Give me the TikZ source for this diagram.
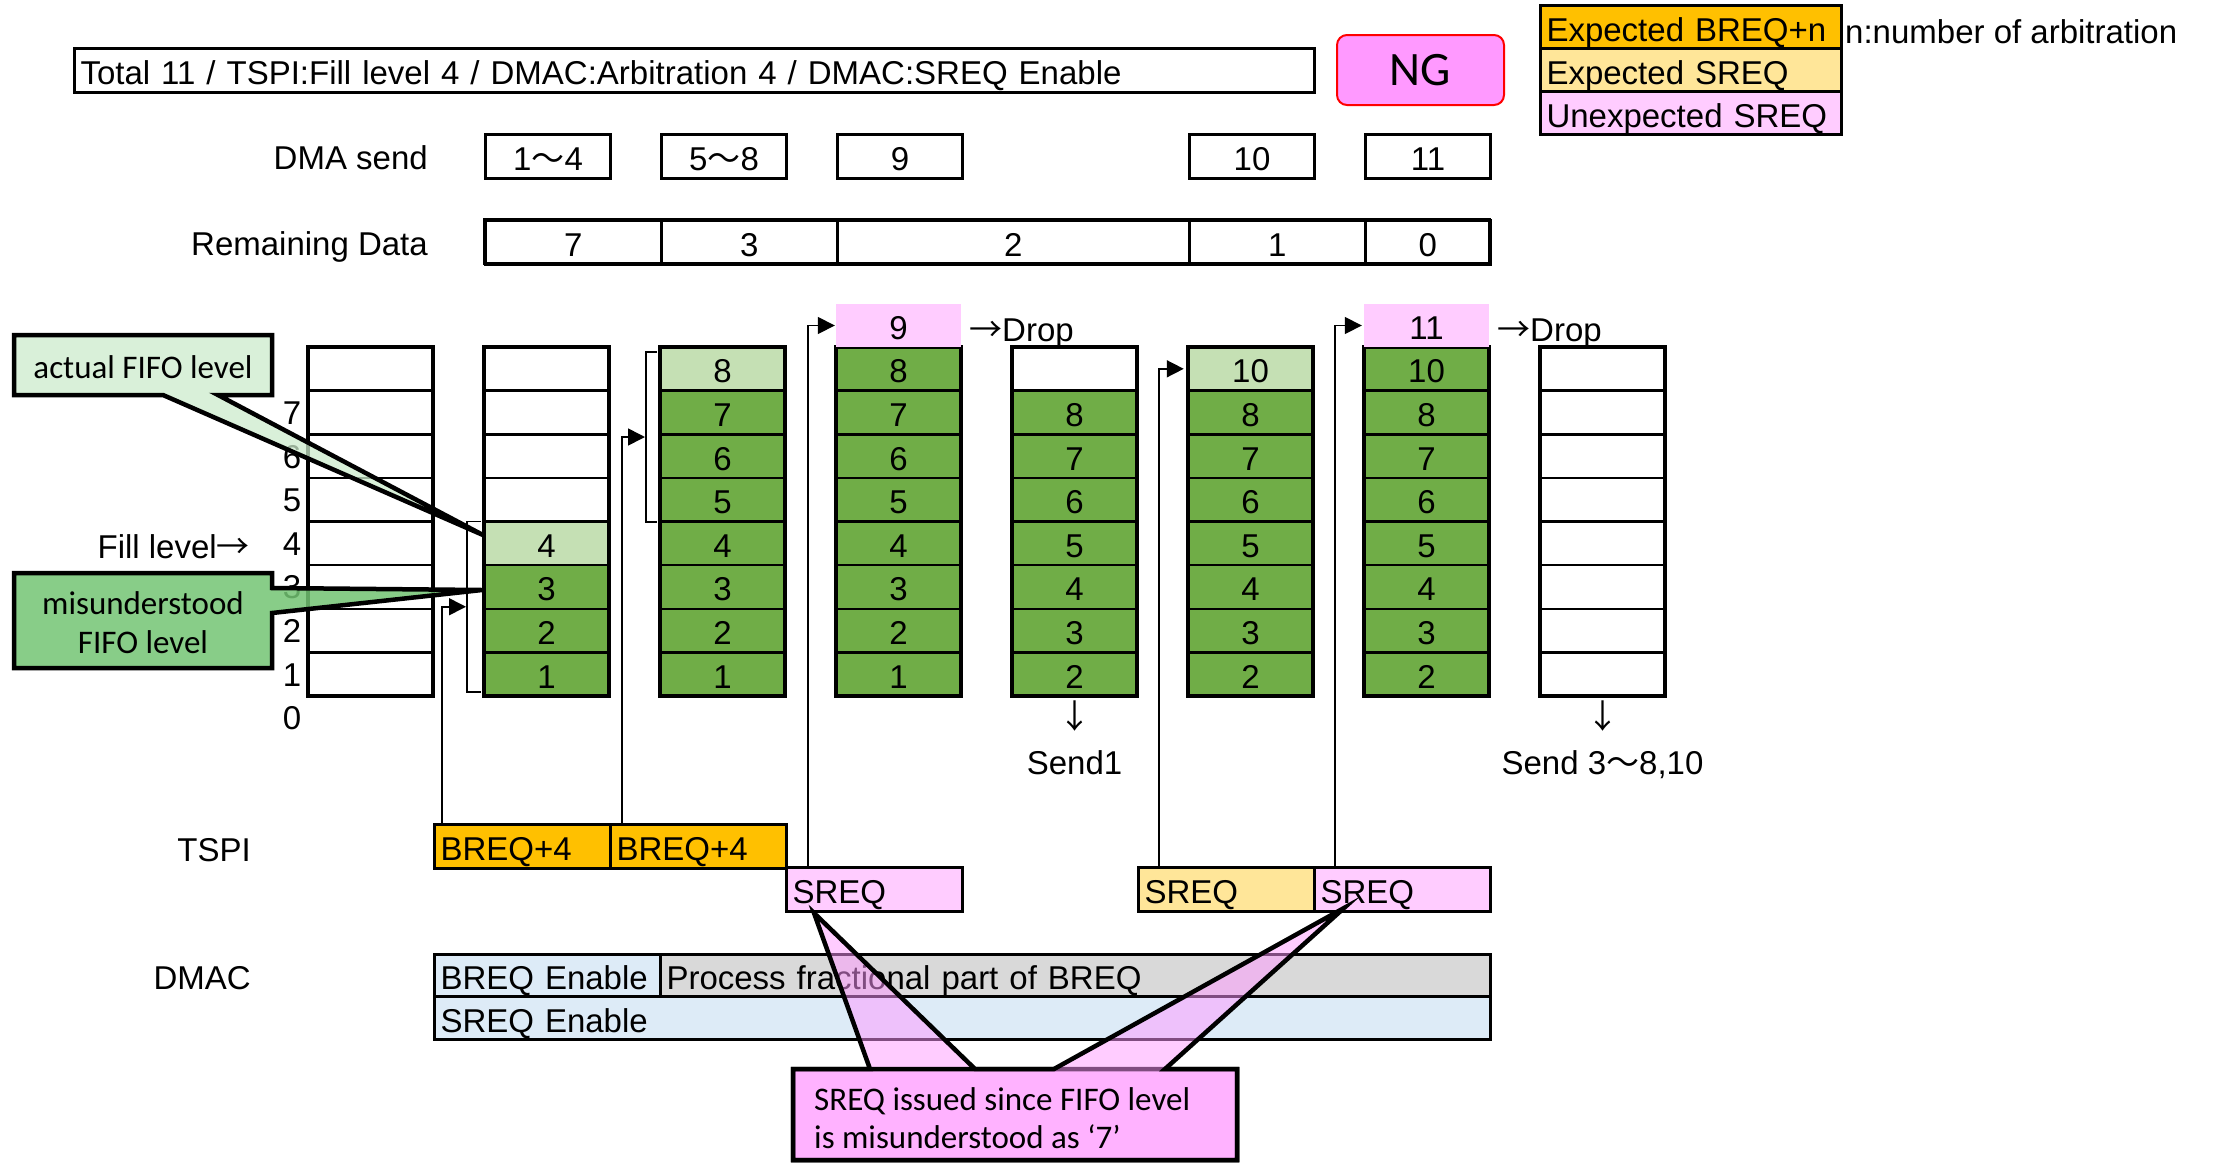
\documentclass[tikz,border=0pt]{standalone}
\usepackage{fontspec}
\setmainfont{Liberation Sans}
\newfontfamily\cjkfont{Noto Sans CJK JP}
\newfontfamily\calfont{Carlito}
\usetikzlibrary{arrows.meta,calc}

\definecolor{gDark}{HTML}{70AD47}
\definecolor{gLight}{HTML}{C5E0B4}
\definecolor{pinkCell}{HTML}{FFCCFF}
\definecolor{orangeQ}{HTML}{FFC000}
\definecolor{yellowQ}{HTML}{FFE699}
\definecolor{blueBar}{HTML}{DDEBF7}
\definecolor{grayBar}{HTML}{D9D9D9}
\definecolor{ngPink}{HTML}{FF99FF}
\definecolor{mint}{HTML}{CCEBCC}
\definecolor{midGreen}{HTML}{73C473}
\definecolor{calloutPink}{HTML}{FF99FF}

\newcommand\mainsize{\fontsize{33pt}{39pt}\selectfont}
\newcommand\calsize{\calfont\fontsize{33pt}{39pt}\selectfont}
\newcommand\myTilde{{\cjkfont ～}}
\newcommand\myRarrow{{\cjkfont →}}
\newcommand\myDarrow{{\cjkfont ↓}}

\tikzset{
  txt/.style={font=\mainsize, inner sep=0pt, text height=28pt, text depth=0pt},
  ctxt/.style={font=\calsize, inner sep=0pt, text height=21pt, text depth=0pt},
  cellbase/.style={txt, minimum width=125pt, minimum height=43.625pt},
  cell/.style={cellbase, draw, line width=2.5pt},
  box/.style={txt, draw, line width=3pt, anchor=north west},
  bar/.style={box, align=left, inner xsep=6pt},
  conn/.style={line width=1.6pt, -{Triangle[length=17pt,width=17pt]}},
  bracket/.style={line width=1.6pt},
  callout/.style={draw, line width=4.5pt, line join=miter},
}

% one FIFO column: #1 = column index, #2 = fill/text of the cells from the bottom
\newcommand\fifocol[2]{%
  \foreach [count=\i] \f/\t in {#2} {
    \node[cell, fill=\f] (c#1-\i) at ({308+176*#1+62.5}, {696-(\i-0.5)*43.625}) {\t};
  }
  \draw[line width=4.5pt] ({308+176*#1}, 347) rectangle ++(125, 349);
}

\begin{document}
\begin{tikzpicture}[x=1pt, y=-1pt]
\useasboundingbox (0,0) rectangle (2213,1162);

% ---- header ----
\node[bar, minimum width=1240pt, minimum height=44pt, text width=1228pt] (title) at (73,47)
  {Total 11 / TSPI:Fill level 4 / DMAC:Arbitration 4 / DMAC:SREQ Enable};
\node[draw=red, line width=2pt, fill=ngPink, rounded corners=10pt, minimum width=167pt,
      minimum height=70pt, inner sep=0pt, font=\calfont\fontsize{48pt}{56pt}\selectfont] (ng) at (1420.5,70) {NG};

% legend
\node[bar, fill=orangeQ, minimum width=301pt, minimum height=43pt, text width=289pt] (lgA) at (1539,4) {Expected BREQ+n};
\node[bar, fill=yellowQ, minimum width=301pt, minimum height=43pt, text width=289pt] (lgB) at (1539,47) {Expected SREQ};
\node[bar, fill=pinkCell, minimum width=301pt, minimum height=43pt, text width=289pt] (lgC) at (1539,90) {Unexpected SREQ};
\node[txt, anchor=west] (lgNote) at (1845,29) {n:number of arbitration};

% DMA send row
\node[txt, anchor=east] (dmaLbl) at (428,155) {DMA send};
\node[box, minimum width=125pt, minimum height=44pt] (ds1) at (484,133) {1\myTilde4};
\node[box, minimum width=125pt, minimum height=44pt] (ds2) at (660,133) {5\myTilde8};
\node[box, minimum width=125pt, minimum height=44pt] (ds3) at (836,133) {9};
\node[box, minimum width=125pt, minimum height=44pt] (ds4) at (1188,133) {10};
\node[box, minimum width=125pt, minimum height=44pt] (ds5) at (1364,133) {11};

% remaining data row
\node[txt, anchor=east] (remLbl) at (428,241) {Remaining Data};
\node[box, line width=2.5pt, minimum width=176pt, minimum height=44pt] (rd1) at (484,219) {7};
\node[box, line width=2.5pt, minimum width=176pt, minimum height=44pt] (rd2) at (660,219) {3};
\node[box, line width=2.5pt, minimum width=352pt, minimum height=44pt] (rd3) at (836,219) {2};
\node[box, line width=2.5pt, minimum width=176pt, minimum height=44pt] (rd4) at (1188,219) {1};
\node[box, line width=2.5pt, minimum width=125pt, minimum height=44pt] (rd5) at (1364,219) {0};
\draw[line width=3pt] (484,219) rectangle (1489,263);

% ---- FIFO levels ----
\foreach \k in {0,...,7} {
  \node[txt] (lv\k) at (292,{694-(\k-0.5)*43.625}) {\k};
}
\node[txt, anchor=east] (fillLbl) at (250,544) {Fill level\myRarrow};

% ---- FIFO columns ----
\fifocol{0}{white/{},white/{},white/{},white/{},white/{},white/{},white/{},white/{}}
\fifocol{1}{gDark/1,gDark/2,gDark/3,gLight/4,white/{},white/{},white/{},white/{}}
\fifocol{2}{gDark/1,gDark/2,gDark/3,gDark/4,gDark/5,gDark/6,gDark/7,gLight/8}
\fifocol{3}{gDark/1,gDark/2,gDark/3,gDark/4,gDark/5,gDark/6,gDark/7,gDark/8}
\fifocol{4}{gDark/2,gDark/3,gDark/4,gDark/5,gDark/6,gDark/7,gDark/8,white/{}}
\fifocol{5}{gDark/2,gDark/3,gDark/4,gDark/5,gDark/6,gDark/7,gDark/8,gLight/10}
\fifocol{6}{gDark/2,gDark/3,gDark/4,gDark/5,gDark/6,gDark/7,gDark/8,gDark/10}
\fifocol{7}{white/{},white/{},white/{},white/{},white/{},white/{},white/{},white/{}}

% overflowing entries
\node[cellbase, fill=pinkCell, minimum height=43pt] (x9) at (898.5,325.5) {9};
\node[cellbase, fill=pinkCell, minimum height=43pt] (x11) at (1426.5,325.5) {11};
\node[txt, anchor=west] (drop9) at (969,327) {\myRarrow Drop};
\node[txt, anchor=west] (drop11) at (1497,327) {\myRarrow Drop};

% sent data
\node[txt] (dn4) at (1074.5,714) {\myDarrow};
\node[txt] (send4) at (1074.5,760) {Send1};
\node[txt] (dn7) at (1602.5,714) {\myDarrow};
\node[txt] (send7) at (1602.5,760) {Send 3\myTilde8,10};

% brackets grouping the burst writes
\draw[bracket] (481,521.5) -- (467,521.5) -- (467,692) -- (481,692);
\coordinate (bkA) at (466,606.75);
\draw[bracket] (657,352) -- (646,352) -- (646,522) -- (657,522);
\coordinate (bkB) at (645,437);

% ---- TSPI ----
\node[txt, anchor=east] (tspiLbl) at (251,847) {TSPI};
\node[bar, fill=orangeQ, minimum width=176pt, minimum height=44pt, text width=164pt] (tsA) at (433,823) {BREQ+4};
\node[bar, fill=orangeQ, minimum width=176pt, minimum height=44pt, text width=164pt] (tsB) at (609,823) {BREQ+4};
\node[bar, fill=pinkCell, minimum width=176pt, minimum height=44pt, text width=164pt] (tsC) at (785,866) {SREQ};
\node[bar, fill=yellowQ, minimum width=176pt, minimum height=44pt, text width=164pt] (tsD) at (1137,866) {SREQ};
\node[bar, fill=pinkCell, minimum width=176pt, minimum height=44pt, text width=164pt] (tsE) at (1313,866) {SREQ};

% requests into the FIFO
\draw[conn] ($(tsA.north west)+(9,0)$) |- (bkA);
\draw[conn] ($(tsB.north west)+(13,0)$) |- (bkB);
\draw[conn] ($(tsC.north west)+(23,0)$) |- ($(x9.west)+(-1,0)$);
\draw[conn] ($(tsD.north west)+(22,0)$) |- ($(c5-8.west)+(-3,0)$);
\draw[conn] ($(tsE.north west)+(22,0)$) |- ($(x11.west)+(-2,0)$);

% ---- DMAC ----
\node[txt, anchor=east] (dmacLbl) at (251,975) {DMAC};
\node[bar, fill=blueBar, minimum width=226pt, minimum height=42pt, text width=214pt] (dmA) at (433,953) {BREQ Enable};
\node[bar, fill=grayBar, minimum width=830pt, minimum height=42pt, text width=818pt] (dmB) at (659,953) {Process fractional part of BREQ};
\node[bar, fill=blueBar, minimum width=1056pt, minimum height=43pt, text width=1044pt] (dmC) at (433,995) {SREQ Enable};

% ---- callouts ----
\draw[callout, fill=mint, fill opacity=0.75]
  (14,335) -- (272,335) -- (272,395) -- (218,395) -- (483,535) -- (163,395) -- (14,395) -- cycle;
\node[ctxt] (actualTxt) at (143,368) {actual FIFO level};

\draw[callout, fill=midGreen, fill opacity=0.85]
  (14,573) -- (272,573) -- (272,588) -- (482,590) -- (272,613) -- (272,668) -- (14,668) -- cycle;
\node[ctxt] (misTxtA) at (143,604) {misunderstood};
\node[ctxt] (misTxtB) at (143,643) {FIFO level};

\draw[callout, fill=calloutPink, fill opacity=0.5]
  (793,1069) -- (870,1069) -- (814,913) -- (975,1069) -- (1237,1069) -- (1237,1160) -- (793,1160) -- cycle;
\draw[callout, fill=calloutPink, fill opacity=0.5]
  (793,1069) -- (1054,1069) -- (1344,908) -- (1165,1069) -- (1237,1069) -- (1237,1160) -- (793,1160) -- cycle;
\node[ctxt, anchor=west] (sreqTxtA) at (814,1100) {SREQ issued since FIFO level};
\node[ctxt, anchor=west] (sreqTxtB) at (814,1138) {is misunderstood as ‘7’};

\end{tikzpicture}
\end{document}
